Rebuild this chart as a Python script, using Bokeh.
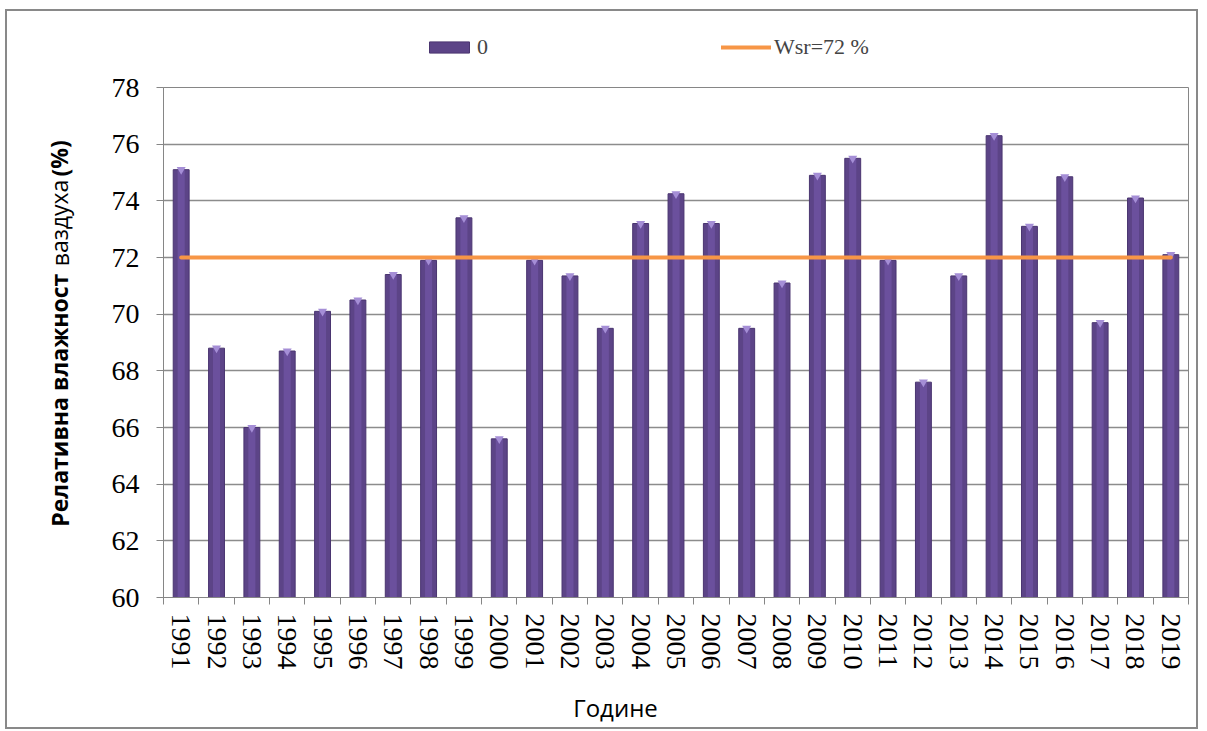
from bokeh.plotting import figure
from bokeh.layouts import row, column
from bokeh.models import (ColumnDataSource, Range1d, FixedTicker, Legend, LegendItem)
from bokeh.core.properties import value
from bokeh.embed import file_html
from bokeh.resources import INLINE

years = [str(y) for y in range(1991, 2020)]
humidity = [75.1, 68.8, 66.0, 68.7, 70.1, 70.5, 71.4, 71.9, 73.4, 65.6,
            71.9, 71.35, 69.5, 73.2, 74.25, 73.2, 69.5, 71.1, 74.9, 75.5,
            71.9, 67.6, 71.35, 76.3, 73.1, 74.85, 69.7, 74.1, 72.1]
wsr = 72
y_ticks = [60, 62, 64, 66, 68, 70, 72, 74, 76, 78]
ylabel_parts = ["Релативна влажност", "ваздуха", "(%)"]
ylabel_styles = ["bold", "normal", "bold"]
xlabel = "Године"
legend_labels = ["0", "Wsr=72 %"]

BAR_FILL = "#5C4487"
BAR_LINE = "#4A3570"
AVG_COLOR = "#F79646"

n = len(years)
centers = [i + 0.5 for i in range(n)]
bounds = list(range(n + 1))
src = ColumnDataSource(dict(x=centers, top=humidity, avg=[wsr] * n))

W_TOTAL = 1189
LEG_H = 60
ROW_H = 609
BOT_H = 47
YLAB_W = 80

def bare(fig):
    fig.axis.visible = False
    fig.grid.visible = False
    fig.outline_line_color = None
    fig.background_fill_color = "white"
    fig.border_fill_color = "white"

# ---- legend strip (proxy glyphs kept outside the visible range) ----
lfig = figure(width=W_TOTAL, height=LEG_H, x_range=Range1d(0, W_TOTAL),
              y_range=Range1d(0, LEG_H), min_border=0,
              output_backend="svg", toolbar_location=None)
bare(lfig)
leg_bar = lfig.vbar(x=[-500], top=[-500], bottom=-600, width=1,
                    fill_color=BAR_FILL, line_color=BAR_LINE)
leg_line = lfig.line(x=[-600, -500], y=[-500, -500], line_color=AVG_COLOR,
                     line_width=4, line_cap="round")
legend = Legend(items=[LegendItem(label=legend_labels[0], renderers=[leg_bar]),
                       LegendItem(label=legend_labels[1], renderers=[leg_line])],
                orientation="horizontal", location=(417, 11),
                glyph_width=50, glyph_height=14, spacing=224,
                label_standoff=3, padding=0, margin=0,
                border_line_color=None, background_fill_alpha=0,
                label_text_font="Liberation Serif", label_text_font_size="22px")
lfig.add_layout(legend, "center")

# ---- main chart ----
p = figure(width=W_TOTAL - YLAB_W, height=ROW_H,
           frame_width=1025, frame_height=510,
           min_border_left=76, min_border_right=8,
           min_border_top=16, min_border_bottom=83,
           x_range=Range1d(0, n), y_range=Range1d(60, 78),
           output_backend="svg", toolbar_location=None)
p.background_fill_color = "white"
p.border_fill_color = "white"
p.outline_line_color = "#868686"
p.outline_line_width = 1

p.vbar(x="x", top="top", bottom=60, width=0.45, source=src,
       fill_color=BAR_FILL, line_color=BAR_LINE, line_width=1)
p.vbar(x="x", top="top", bottom=60, width=0.2, source=src,
       fill_color="#6F54A2", line_color=None, fill_alpha=0.8)
p.scatter(x="x", y="top", source=src, marker="inverted_triangle", size=9,
          fill_color="#A58ED6", line_color=None)
p.line(x="x", y="avg", source=src, line_color=AVG_COLOR,
       line_width=4, line_cap="round")

p.yaxis.ticker = FixedTicker(ticks=y_ticks)
p.yaxis.major_label_text_font = "Liberation Serif"
p.yaxis.major_label_text_font_size = "28px"
p.yaxis.major_label_text_color = "black"
p.yaxis.major_tick_out = 7
p.yaxis.major_tick_in = 0
p.yaxis.minor_tick_out = 0
p.yaxis.minor_tick_in = 0
p.yaxis.axis_line_color = "#868686"
p.yaxis.major_tick_line_color = "#868686"
p.yaxis.major_label_standoff = 17

p.xaxis.ticker = FixedTicker(ticks=centers, minor_ticks=bounds)
p.xaxis.major_label_overrides = {c: y for c, y in zip(centers, years)}
p.xaxis.major_label_orientation = "vertical"
p.xaxis.major_label_text_font = "Liberation Serif"
p.xaxis.major_label_text_font_size = "28px"
p.xaxis.major_label_text_color = "black"
p.xaxis.major_tick_out = 0
p.xaxis.major_tick_in = 0
p.xaxis.minor_tick_out = 7
p.xaxis.minor_tick_in = 0
p.xaxis.minor_tick_line_color = "#868686"
p.xaxis.axis_line_color = "#868686"
p.xaxis.major_label_standoff = 9

p.xgrid.visible = False
p.ygrid.ticker = FixedTicker(ticks=y_ticks)
p.ygrid.grid_line_color = "#8C8C8C"
p.ygrid.grid_line_width = 1.5

# ---- y-axis title panel (mixed bold / normal), sharing the value scale ----
yfig = figure(width=YLAB_W, height=ROW_H, x_range=Range1d(0, YLAB_W),
              y_range=p.y_range, min_border=0,
              output_backend="svg", toolbar_location=None)
bare(yfig)
ylab_pos = [62.50, 71.69, 74.86]
for txt, yy, st in zip(ylabel_parts, ylab_pos, ylabel_styles):
    yfig.text(x=[52], y=[yy], text=[txt], angle=1.5708, text_align="left",
              text_baseline="middle", text_font=value("Open Sans"),
              text_font_size="23px", text_font_style=st, text_color="black")

# ---- x-axis title strip ----
bfig = figure(width=W_TOTAL, height=BOT_H, x_range=Range1d(0, W_TOTAL),
              y_range=Range1d(0, BOT_H), min_border=0,
              output_backend="svg", toolbar_location=None)
bare(bfig)
bfig.text(x=[608], y=[20], text=[xlabel], text_align="center",
          text_baseline="middle", text_font=value("Open Sans"),
          text_font_size="24px", text_color="black")

layout = column(lfig, row(yfig, p, spacing=0), bfig, spacing=0,
                styles={"border": "2px solid #898989", "margin-left": "5px",
                        "margin-top": "9px"})

open("out.html", "w").write(file_html(layout, INLINE))
